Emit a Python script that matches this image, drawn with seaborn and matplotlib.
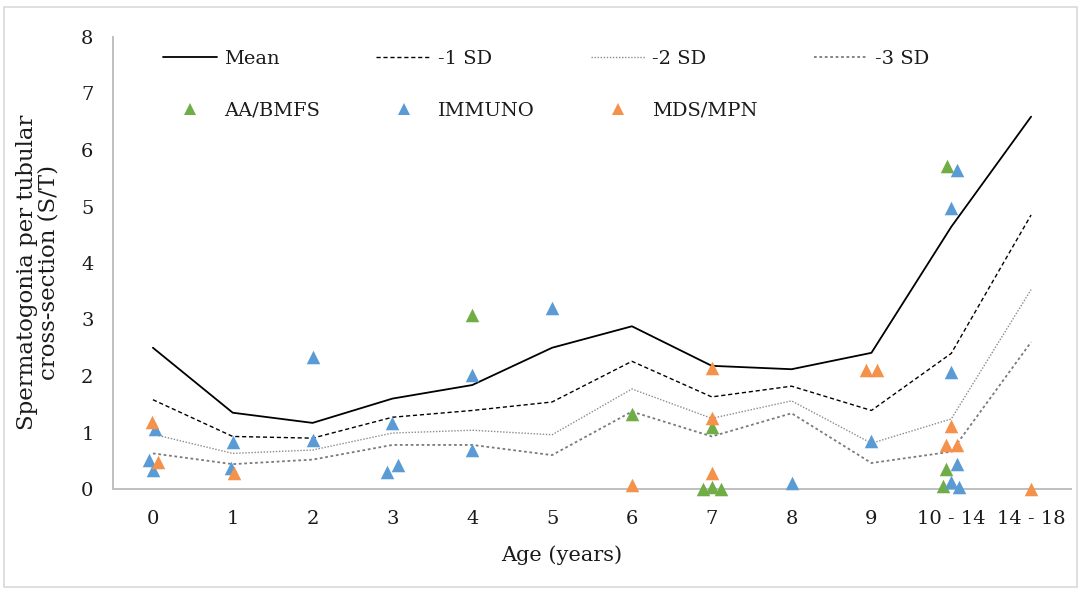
import matplotlib
matplotlib.use("Agg")
import matplotlib.pyplot as plt
from matplotlib.lines import Line2D
from matplotlib.patches import Rectangle
import numpy as np
import seaborn as sns

# ---- data ----
categories = ['0', '1', '2', '3', '4', '5', '6', '7', '8', '9', '10 - 14', '14 - 18']
mean_st = [2.50, 1.35, 1.17, 1.60, 1.84, 2.50, 2.88, 2.18, 2.12, 2.41, 4.64, 6.59]
minus1_sd = [1.58, 0.93, 0.90, 1.27, 1.39, 1.54, 2.26, 1.63, 1.82, 1.39, 2.40, 4.85]
minus2_sd = [0.97, 0.63, 0.69, 0.99, 1.04, 0.96, 1.77, 1.25, 1.56, 0.81, 1.24, 3.53]
minus3_sd = [0.63, 0.44, 0.52, 0.78, 0.78, 0.60, 1.37, 0.93, 1.34, 0.46, 0.66, 2.60]

aa_age = [4, 6, 7, 6.89, 7.0, 7.11, 9.95, 9.94, 9.9]
aa_st = [3.08, 1.33, 1.10, 0.0, 0.03, 0.0, 5.72, 0.35, 0.06]

immuno_age = [0.03, -0.05, 0.0, 1.0, 0.98, 2, 2, 3, 2.93, 3.07, 4, 4, 5, 8, 9,
              10.07, 10.0, 10.0, 10.07, 10.0, 10.1]
immuno_st = [1.07, 0.52, 0.34, 0.84, 0.38, 2.33, 0.86, 1.16, 0.30, 0.42, 2.02, 0.69,
             3.20, 0.11, 0.85, 5.65, 4.98, 2.07, 0.45, 0.13, 0.04]

mds_age = [-0.01, 0.06, 1.02, 6, 7, 7, 7, 8.93, 9.07, 10, 9.94, 10.07, 11]
mds_st = [1.19, 0.47, 0.28, 0.07, 2.15, 1.25, 0.28, 2.10, 2.10, 1.12, 0.77, 0.77, 0.0]

# ---- style ----
sns.set_theme(style="white")
plt.rcParams['font.family'] = ['DejaVu Serif']

GREEN = '#70AD47'
BLUE = '#5B9BD5'
ORANGE = '#F4914A'
TXT = '#1a1a1a'

W, H = 1081, 591
fig = plt.figure(figsize=(W / 100, H / 100), dpi=100)
ax = fig.add_axes([113 / W, 1 - 489 / H, (1071 - 113) / W, (489 - 37) / H])

xpos = np.arange(len(categories))

STY_MEAN = dict(color='black', lw=1.3, ls='-')
STY_SD1 = dict(color='black', lw=1.0, ls=(0, (3, 2)))
STY_SD2 = dict(color='#8a8a8a', lw=1.0, ls=(0, (1, 1.2)))
STY_SD3 = dict(color='#7a7a7a', lw=1.3, ls=(0, (1.5, 1.5)))

line_specs = [
    (mean_st, 'Mean', STY_MEAN),
    (minus1_sd, '-1 SD', STY_SD1),
    (minus2_sd, '-2 SD', STY_SD2),
    (minus3_sd, '-3 SD', STY_SD3),
]
for vals, lab, st in line_specs:
    sns.lineplot(x=xpos, y=vals, ax=ax, sort=False, errorbar=None,
                 color=st['color'], linewidth=st['lw'], linestyle=st['ls'], zorder=2)

scatter_specs = [
    (aa_age, aa_st, 'AA/BMFS', GREEN),
    (immuno_age, immuno_st, 'IMMUNO', BLUE),
    (mds_age, mds_st, 'MDS/MPN', ORANGE),
]
for xs, ys, lab, col in scatter_specs:
    sns.scatterplot(x=xs, y=ys, ax=ax, marker='^', s=95, color=col,
                    linewidth=0, zorder=3, clip_on=False)

ax.set_xlim(-0.5, len(categories) - 0.5)
ax.set_ylim(0, 8)
ax.set_xticks(xpos)
ax.set_xticklabels(categories)
ax.set_yticks(range(0, 9))
ax.tick_params(axis='both', length=0, labelsize=14, colors=TXT)
ax.tick_params(axis='y', pad=14)
ax.tick_params(axis='x', pad=15)

for s in ['top', 'right']:
    ax.spines[s].set_visible(False)
for s in ['left', 'bottom']:
    ax.spines[s].set_color('#bfbfbf')
    ax.spines[s].set_linewidth(1.4)
ax.grid(False)

ax.set_xlabel('Age (years)', fontsize=15, color=TXT)
ax.xaxis.set_label_coords((562 - 113) / (1071 - 113), (489 - 545) / (489 - 37))
ax.set_ylabel('Spermatogonia per tubular\ncross-section (S/T)', fontsize=16.5,
              color=TXT, multialignment='center', linespacing=1.0)
ax.yaxis.set_label_coords((60 - 113) / (1071 - 113), (489 - 272) / (489 - 37))

# legend
def line_handle(st):
    return Line2D([], [], color=st['color'], lw=st['lw'], ls=st['ls'])

def tri_handle(col):
    return Line2D([], [], color=col, marker='^', ls='none', markersize=8.5, markeredgewidth=0)

handles = [line_handle(STY_MEAN), tri_handle(GREEN), line_handle(STY_SD1), tri_handle(BLUE),
           line_handle(STY_SD2), tri_handle(ORANGE), line_handle(STY_SD3)]
labels = ['Mean', 'AA/BMFS', '-1 SD', 'IMMUNO', '-2 SD', 'MDS/MPN', '-3 SD']
ax.legend(handles, labels, ncol=4, loc='upper left',
          bbox_to_anchor=(155 / W, 1 - 42 / H), bbox_transform=fig.transFigure,
          frameon=False, fontsize=14, handlelength=2.8, handletextpad=0.35,
          columnspacing=2.9, labelspacing=1.75, borderaxespad=0,
          labelcolor=TXT)

fig.patches.append(Rectangle((4 / W, 4 / H), 1073 / W, 580 / H, transform=fig.transFigure,
                             fill=False, edgecolor='#d9d9d9', lw=1.2))

fig.savefig('out.png', dpi=100)
